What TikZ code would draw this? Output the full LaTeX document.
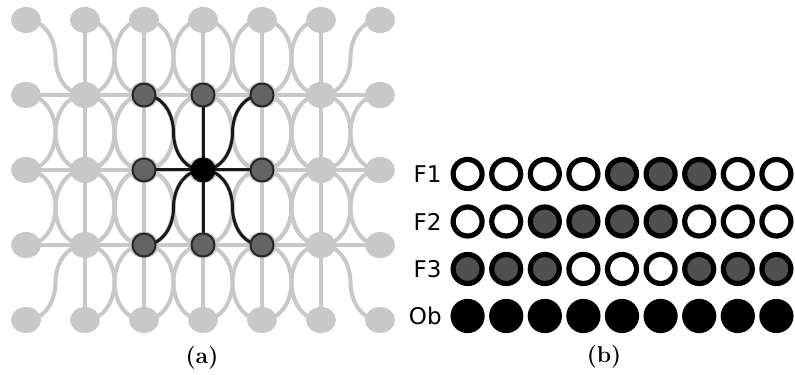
\documentclass[tikz,border=0pt]{standalone}
\usepackage{fontspec}
\newfontfamily\labelfont{DejaVu Sans}
\usetikzlibrary{shapes.geometric,backgrounds,calc}

\definecolor{lattice}{RGB}{200,200,200}
\definecolor{hood}{RGB}{100,100,100}
\definecolor{fired}{RGB}{80,80,80}

\begin{document}
\begin{tikzpicture}[
    x=0.5pt, y=0.5pt,
    site/.style={ellipse, fill=lattice, inner sep=0pt, minimum width=15pt, minimum height=13pt},
    link/.style={draw=lattice, line width=2pt},
    nbr/.style={circle, draw=black!85, line width=1pt, fill=hood, inner sep=0pt, minimum size=11.5pt},
    focus/.style={circle, fill=black, inner sep=0pt, minimum size=12.5pt},
    nlink/.style={draw=black!90, line width=1.5pt},
    cell/.style={circle, draw=black, line width=2.6pt, inner sep=0pt, minimum size=14.5pt},
    cell0/.style={cell, fill=white},
    cell1/.style={cell, fill=fired},
    cellob/.style={cell, fill=black},
    rowlabel/.style={anchor=east, inner sep=0pt, font=\labelfont\fontsize{11.5}{14}\selectfont},
    subcap/.style={font=\fontsize{11.5}{14}\selectfont\bfseries}
  ]
  \useasboundingbox (0,0) rectangle (795,374);

  % lattice sites
  \foreach \i in {0,...,6}
    \foreach \j in {0,...,4}
      \node[site] (g-\i-\j) at ({26+59*\i},{354-75*\j}) {};

  % every inner site is linked to its eight neighbours,
  % the diagonal links are two quarter arcs meeting half way
  \begin{scope}[on background layer]
    \foreach \i in {1,...,5}
      \foreach \j in {1,...,3} {
        \pgfmathtruncatemacro\iL{\i-1}
        \pgfmathtruncatemacro\iR{\i+1}
        \pgfmathtruncatemacro\jU{\j-1}
        \pgfmathtruncatemacro\jD{\j+1}
        \draw[link] (g-\iL-\j.center) -- (g-\iR-\j.center)
                    (g-\i-\jU.center) -- (g-\i-\jD.center);
        \foreach \n/\a/\b in {\jU/90/-90,\jD/-90/90} {
          \draw[link] (g-\i-\j.center) to[out=0,in=\b] ($(g-\i-\j)!.5!(g-\iR-\n)$)
                      to[out=\a,in=180] (g-\iR-\n.center);
          \draw[link] (g-\i-\j.center) to[out=180,in=\b] ($(g-\i-\j)!.5!(g-\iL-\n)$)
                      to[out=\a,in=0] (g-\iL-\n.center);
        }
      }
  \end{scope}

  % neighbourhood of the centre site
  \draw[nlink] (g-3-1.center) -- (g-3-3.center)
               (g-2-2.center) -- (g-4-2.center);
  \foreach \n/\a/\b in {1/90/-90,3/-90/90} {
    \draw[nlink] (g-3-2.center) to[out=0,in=\b] ($(g-3-2)!.5!(g-4-\n)$)
                 to[out=\a,in=180] (g-4-\n.center);
    \draw[nlink] (g-3-2.center) to[out=180,in=\b] ($(g-3-2)!.5!(g-2-\n)$)
                 to[out=\a,in=0] (g-2-\n.center);
  }
  \foreach \i/\j in {2/1,3/1,4/1,2/2,4/2,2/3,3/3,4/3}
    \node[nbr] (n-\i-\j) at (g-\i-\j) {};
  \node[focus] (c) at (g-3-2) {};

  \node[subcap] (cap-a) at (202,16) {(a)};

  % feature rows
  \foreach \name/\bits [count=\r] in {F1/{0,0,0,0,1,1,1,0,0},
                                      F2/{0,0,1,1,1,1,0,0,0},
                                      F3/{1,1,1,0,0,0,1,1,1}} {
    \node[rowlabel] (lab-\r) at (442,{247.5-47.5*\r}) {\name};
    \foreach \b [count=\k] in \bits
      \node[cell\b] (u-\r-\k) at ({429+38.6*\k},{247.5-47.5*\r}) {};
  }
  \node[rowlabel] (lab-ob) at (442,58) {Ob};
  \foreach \k in {1,...,9}
    \node[cellob] (ob-\k) at ({429+38.6*\k},58) {};

  \node[subcap] (cap-b) at (604,17) {(b)};
\end{tikzpicture}
\end{document}
